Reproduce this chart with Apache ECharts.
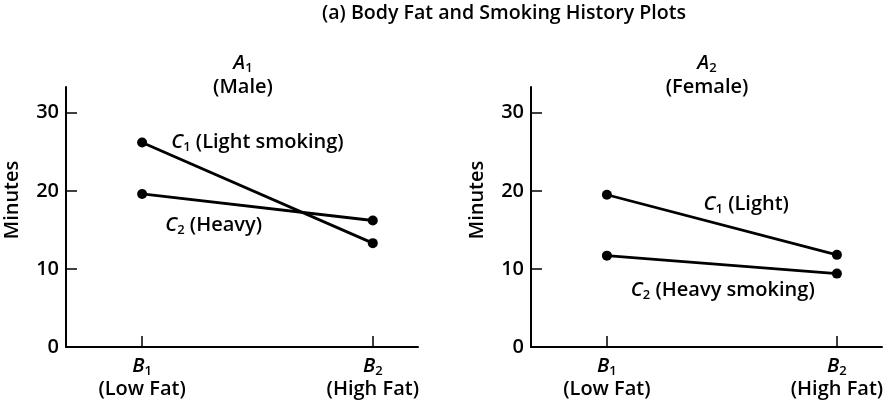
<!DOCTYPE html>
<html><head><meta charset="utf-8">
<script src="https://cdn.jsdelivr.net/npm/echarts@6/dist/echarts.min.js"></script>
<style>html,body{margin:0;padding:0;background:#fff}#c{width:890px;height:406px}</style>
</head><body><div id="c"></div>
<script>
// ---- data ----
const xPositions = [1, 2];                       // B1, B2
const xLetters = ['B', 'B'];
const xSubs = ['1', '2'];
const xNames = ['(Low Fat)', '(High Fat)'];
const yTicks = [0, 10, 20, 30];
const maleLight = [26.2, 13.3];   // A1, C1
const maleHeavy = [19.6, 16.2];   // A1, C2
const femaleLight = [19.5, 11.8]; // A2, C1
const femaleHeavy = [11.7, 9.4];  // A2, C2
const panelLetters = ['A', 'A'];
const panelSubs = ['1', '2'];
const panelNames = ['(Male)', '(Female)'];
const mainTitle = '(a) Body Fat and Smoking History Plots';
const yName = 'Minutes';
// annotation labels: [x, y, letter, sub, text]
const maleLabels = [[1.126, 26.2, 'C', '1', ' (Light smoking)'], [1.10, 15.6, 'C', '2', ' (Heavy)']];
const femaleLabels = [[1.42, 18.3, 'C', '1', ' (Light)'], [1.104, 7.3, 'C', '2', ' (Heavy smoking)']];

const FONT = '"Open Sans", sans-serif';
const FS = 20;
const FW = 600;
const INK = '#000';
const richSub = {
  i: {fontStyle: 'italic', fontSize: FS, fontWeight: FW, fontFamily: FONT, color: INK},
  s: {fontSize: 13, fontWeight: FW, fontFamily: FONT, color: INK, padding: [10, 0, 0, 0]},
  n: {fontSize: FS, fontWeight: FW, fontFamily: FONT, color: INK}
};

const chart = echarts.init(document.getElementById('c'), null, {renderer: 'canvas'});
const grids = [
  {left: 66, top: 87, width: 352, height: 260},
  {left: 531, top: 87, width: 351, height: 260}
];
function xAxis(gi) {
  return {
    type: 'value', gridIndex: gi, min: 0.67, max: 2.196,
    axisLine: {show: true, lineStyle: {color: INK, width: 2}},
    axisTick: {show: true, inside: true, length: 11, customValues: xPositions, lineStyle: {color: INK, width: 1.5}},
    splitLine: {show: false},
    axisLabel: {
      customValues: xPositions, margin: 8, lineHeight: 23, color: INK,
      formatter: function (v) { const k = xPositions.indexOf(v); return '{i|' + xLetters[k] + '}{s|' + xSubs[k] + '}\n{n|' + xNames[k] + '}'; },
      rich: richSub
    }
  };
}
function yAxis(gi) {
  return {
    type: 'value', gridIndex: gi, min: 0, max: 33.3,
    name: yName, nameLocation: 'middle', nameGap: 44,
    nameTextStyle: {fontFamily: FONT, fontSize: FS, fontWeight: FW, color: INK, padding: [0, 0, 0, 34]},
    axisLine: {show: true, lineStyle: {color: INK, width: 2}},
    axisTick: {show: true, inside: true, length: 11, customValues: yTicks, lineStyle: {color: INK, width: 1.5}},
    splitLine: {show: false},
    axisLabel: {customValues: yTicks, margin: 7, fontFamily: FONT, fontSize: FS, fontWeight: FW, color: INK}
  };
}
function lineSeries(gi, vals) {
  return {
    type: 'line', xAxisIndex: gi, yAxisIndex: gi,
    data: xPositions.map((x, k) => [x, vals[k]]),
    symbol: 'circle', symbolSize: 10, showSymbol: true,
    lineStyle: {color: INK, width: 2.8}, itemStyle: {color: INK},
    silent: true, animation: false, z: 3
  };
}
function labelSeries(gi, labs) {
  return {
    type: 'scatter', xAxisIndex: gi, yAxisIndex: gi, symbolSize: 0, silent: true, animation: false,
    itemStyle: {opacity: 1, color: INK},
    data: labs.map(l => [l[0], l[1]]),
    label: {
      show: true, position: 'right', distance: 0, color: INK, opacity: 1, fontFamily: FONT, fontSize: FS, fontWeight: FW,
      formatter: function (p) { const l = labs[p.dataIndex]; return '{i|' + l[2] + '}{s|' + l[3] + '}{n|' + l[4] + '}'; },
      rich: richSub
    }
  };
}
function richTitle(x, letter, sub, name) {
  return {
    type: 'text', x: x, y: 51,
    style: {
      text: '{i|' + letter + '}{s|' + sub + '}\n{n|' + name + '}', align: 'center', verticalAlign: 'top',
      lineHeight: 24, rich: richSub, fill: INK
    }
  };
}
chart.setOption({
  animation: false,
  grid: grids,
  xAxis: [xAxis(0), xAxis(1)],
  yAxis: [yAxis(0), yAxis(1)],
  series: [
    lineSeries(0, maleLight), lineSeries(0, maleHeavy),
    lineSeries(1, femaleLight), lineSeries(1, femaleHeavy),
    labelSeries(0, maleLabels), labelSeries(1, femaleLabels)
  ],
  graphic: [
    {type: 'text', x: 504, y: 3, style: {text: mainTitle, align: 'center', verticalAlign: 'top', fontFamily: FONT, fontSize: 19.6, fontWeight: FW, fill: INK}},
    richTitle(243, panelLetters[0], panelSubs[0], panelNames[0]),
    richTitle(707, panelLetters[1], panelSubs[1], panelNames[1])
  ]
});
</script>
</body></html>
